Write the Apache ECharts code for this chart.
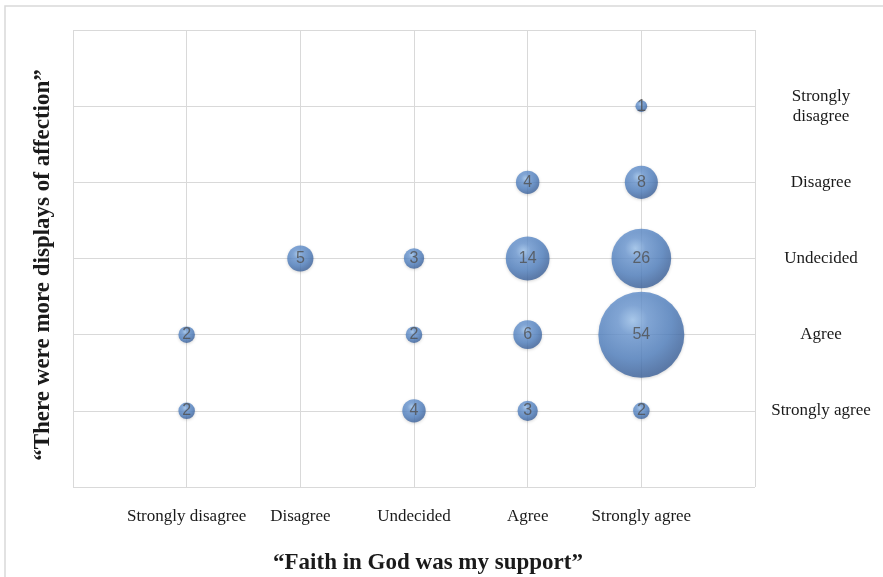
<!DOCTYPE html>
<html>
<head>
<meta charset="utf-8">
<script src="https://cdn.jsdelivr.net/npm/echarts@6/dist/echarts.min.js"></script>
<style>
  html, body { margin: 0; padding: 0; background: #fff; }
  #chart { width: 883px; height: 577px; }
</style>
</head>
<body>
<div id="chart"></div>
<script>
// Likert scale labels (1..5) for both axes
const faithLabels = ['Strongly disagree', 'Disagree', 'Undecided', 'Agree', 'Strongly agree'];
const affectionLabels = ['Strongly agree', 'Agree', 'Undecided', 'Disagree', 'Strongly disagree'];

// Response counts: x = faith answer index (1..5), y = affection answer index (1..5)
const faithIdx     = [5, 4, 5, 2, 3, 4, 5, 1, 3, 4, 5, 1, 3, 4, 5];
const affectionIdx = [5, 4, 4, 3, 3, 3, 3, 2, 2, 2, 2, 1, 1, 1, 1];
const counts       = [1, 4, 8, 5, 3, 14, 26, 2, 2, 6, 54, 2, 4, 3, 2];

const points = faithIdx.map((x, i) => [x, affectionIdx[i], counts[i]]);

const serif = '"Liberation Serif", "Times New Roman", serif';

const chart = echarts.init(document.getElementById('chart'));
chart.setOption({
  animation: false,
  backgroundColor: '#fff',
  grid: { left: 73, right: 128, top: 30, bottom: 90 },
  xAxis: {
    type: 'value', min: 0, max: 6, interval: 1,
    axisLine: { show: false }, axisTick: { show: false },
    splitLine: { lineStyle: { color: '#d9d9d9', width: 1 } },
    axisLabel: {
      margin: 21, fontFamily: serif, fontSize: 17, color: '#1a1a1a',
      formatter: v => faithLabels[v - 1] || ''
    }
  },
  yAxis: {
    type: 'value', position: 'right', min: 0, max: 6, interval: 1,
    axisLine: { show: false }, axisTick: { show: false },
    splitLine: { lineStyle: { color: '#d9d9d9', width: 1 } },
    axisLabel: {
      margin: 66, align: 'center', fontFamily: serif, fontSize: 17, color: '#1a1a1a',
      lineHeight: 20,
      formatter: v => (affectionLabels[v - 1] || '').replace('Strongly disagree', 'Strongly\ndisagree')
    }
  },
  series: [{
    type: 'scatter',
    data: points,
    symbolSize: d => 11.7 * Math.sqrt(d[2]),
    itemStyle: {
      color: {
        type: 'radial', x: 0.4, y: 0.33, r: 0.7,
        colorStops: [
          { offset: 0, color: '#9cc3ee' },
          { offset: 0.25, color: '#6b98d3' },
          { offset: 0.65, color: '#4f7fbf' },
          { offset: 1, color: '#395e97' }
        ]
      },
      shadowColor: 'rgba(0,0,0,0.2)', shadowBlur: 3, shadowOffsetY: 1
    },
    label: {
      show: true, position: 'inside',
      formatter: p => p.value[2],
      fontFamily: '"Liberation Sans", Arial, sans-serif', fontSize: 16, color: '#4f4f4f'
    }
  }],
  graphic: [
    {
      type: 'rect', silent: true, z: -1,
      shape: { x: 5, y: 6, width: 1000, height: 700 },
      style: { fill: 'none', stroke: '#d9d9d9', lineWidth: 1.5 }
    },
    {
      type: 'text', x: 43, y: 265, rotation: Math.PI / 2,
      style: {
        text: '\u201CThere were more displays of affection\u201D',
        font: 'bold 23px ' + serif, fill: '#1a1a1a',
        textAlign: 'center', textVerticalAlign: 'middle'
      }
    },
    {
      type: 'text', x: 428, y: 563,
      style: {
        text: '\u201CFaith in God was my support\u201D',
        font: 'bold 23px ' + serif, fill: '#1a1a1a',
        textAlign: 'center', textVerticalAlign: 'middle'
      }
    }
  ]
});
</script>
</body>
</html>
